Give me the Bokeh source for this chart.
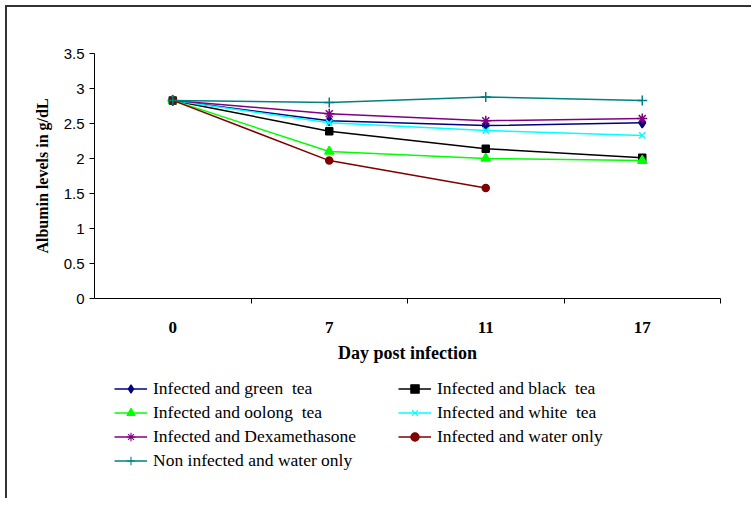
from bokeh.plotting import figure
from bokeh.layouts import column
from bokeh.models import FixedTicker, Legend, LegendItem, Range1d
from bokeh.embed import file_html
from bokeh.resources import INLINE

# ---- data ----
days = ["0", "7", "11", "17"]
green_tea = [2.83, 2.54, 2.47, 2.51]
black_tea = [2.83, 2.39, 2.14, 2.01]
oolong_tea = [2.83, 2.10, 2.00, 1.97]
white_tea = [2.83, 2.51, 2.40, 2.33]
dexamethasone = [2.83, 2.64, 2.54, 2.57]
water_only = [2.83, 1.97, 1.58, float("nan")]
non_infected = [2.83, 2.80, 2.88, 2.83]

y_ticks = [0, 0.5, 1, 1.5, 2, 2.5, 3, 3.5]
y_tick_labels = ["0", "0.5", "1", "1.5", "2", "2.5", "3", "3.5"]

series_names = ["Infected and green  tea", "Infected and black  tea",
                "Infected and oolong  tea", "Infected and white  tea",
                "Infected and Dexamethasone", "Infected and water only",
                "Non infected and water only"]
series_values = [green_tea, black_tea, oolong_tea, white_tea,
                 dexamethasone, water_only, non_infected]
series_colors = ["#000080", "#000000", "#00FF00", "#00FFFF",
                 "#800080", "#800000", "#008080"]
series_markers = ["diamond", "square", "triangle", "x", "asterisk", "circle", "cross"]
series_sizes = [10, 7, 9, 9, 10, 7, 10]

x_pos = [i + 0.5 for i in range(len(days))]

p = figure(width=744, height=371, output_backend="svg", toolbar_location=None,
           x_range=Range1d(0, len(days)), y_range=Range1d(0, 3.5),
           min_border_left=87, min_border_right=31, min_border_top=46,
           min_border_bottom=80)
p.outline_line_color = None
p.xgrid.visible = False
p.ygrid.visible = False
p.background_fill_color = "white"
p.border_fill_color = "white"

# x axis
xa = p.xaxis[0]
xa.ticker = FixedTicker(ticks=x_pos, minor_ticks=list(range(1, len(days) + 1)))
xa.major_label_overrides = {x: d for x, d in zip(x_pos, days)}
xa.major_tick_out = 0
xa.major_tick_in = 0
xa.minor_tick_out = 5
xa.minor_tick_in = 0
xa.minor_tick_line_color = "black"
xa.axis_line_color = "black"
xa.major_label_standoff = 18
xa.major_label_text_font = "Liberation Serif"
xa.major_label_text_font_style = "bold"
xa.major_label_text_font_size = "17px"
xa.major_label_text_color = "black"
xa.axis_label = "Day post infection"
xa.axis_label_text_font = "Liberation Serif"
xa.axis_label_text_font_style = "bold"
xa.axis_label_text_font_size = "18px"
xa.axis_label_text_color = "black"
xa.axis_label_standoff = 7

# y axis
ya = p.yaxis[0]
ya.ticker = FixedTicker(ticks=y_ticks, minor_ticks=[])
ya.major_label_overrides = {t: l for t, l in zip(y_ticks, y_tick_labels)}
ya.major_tick_out = 5
ya.major_tick_in = 0
ya.minor_tick_out = 0
ya.minor_tick_in = 0
ya.axis_line_color = "black"
ya.major_tick_line_color = "black"
ya.major_label_standoff = 5
ya.major_label_text_font = "Liberation Sans"
ya.major_label_text_font_size = "15px"
ya.major_label_text_color = "black"
ya.axis_label = "Albumin levels in g/dL"
ya.axis_label_text_font = "Liberation Serif"
ya.axis_label_text_font_style = "bold"
ya.axis_label_text_font_size = "16px"
ya.axis_label_text_color = "black"
ya.axis_label_standoff = 10

for vals, color, marker, size in zip(series_values, series_colors,
                                     series_markers, series_sizes):
    p.line(x_pos, vals, line_color=color, line_width=1.5)
    p.scatter(x_pos, vals, marker=marker, size=size, fill_color=color,
              line_color=color, line_width=1.5)

# ---- legend panel (separate figure, so the legend is not clipped) ----
# its renderers carry the same series, but its ranges keep them out of view;
# only their legend glyphs are shown
lf = figure(width=744, height=120, output_backend="svg", toolbar_location=None,
            x_range=Range1d(100, 101), y_range=Range1d(100, 101),
            x_axis_location=None, y_axis_location=None,
            min_border_left=0, min_border_right=0, min_border_top=0,
            min_border_bottom=0)
lf.outline_line_color = None
lf.xgrid.visible = False
lf.ygrid.visible = False

items = []
for name, vals, color, marker, size in zip(series_names, series_values, series_colors,
                                           series_markers, series_sizes):
    lr = lf.line(x_pos, vals, line_color=color, line_width=1.3)
    sr = lf.scatter(x_pos, vals, marker=marker, size=size - 3, fill_color=color,
                    line_color=color, line_width=1.1)
    items.append(LegendItem(label=name, renderers=[lr, sr]))

# column-major ordering for a 2-column legend
legend_items = [items[0], items[2], items[4], items[6], items[1], items[3], items[5]]

lg = Legend(items=legend_items, location=(20, 27), orientation="vertical",
            ncols=2, border_line_color=None, background_fill_alpha=0,
            padding=0, margin=0, spacing=3, glyph_width=33,
            glyph_height=21, label_height=21, label_width=242, label_standoff=6,
            label_text_font="Liberation Serif", label_text_font_size="17.5px",
            label_text_color="black")
lf.add_layout(lg, "center")

layout = column(p, lf, spacing=0,
                styles={"margin-left": "5px", "margin-top": "5px",
                        "border-top": "2px solid #333333",
                        "border-left": "2px solid #333333"})

open("out.html", "w").write(file_html(layout, INLINE))
